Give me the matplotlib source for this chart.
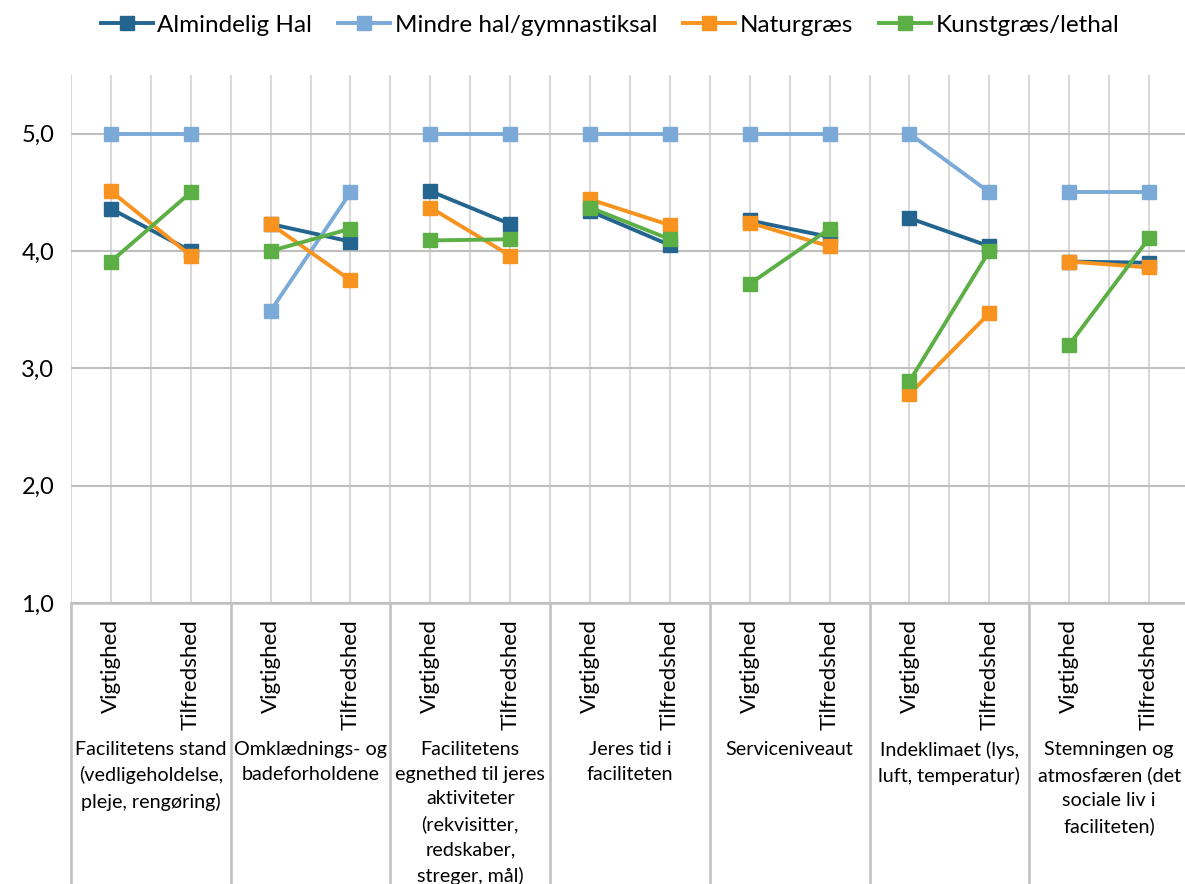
import numpy as np
import matplotlib
matplotlib.use('Agg')
import matplotlib.pyplot as plt
import matplotlib.transforms as mtransforms

plt.rcParams['font.family'] = ['Lato', 'DejaVu Sans']

# Category labels
groups = [
    'Facilitetens stand\n(vedligeholdelse,\npleje, rengøring)',
    'Omklædnings- og\nbadeforholdene',
    'Facilitetens\negnethed til jeres\naktiviteter\n(rekvisitter,\nredskaber,\nstreger, mål)',
    'Jeres tid i\nfaciliteten',
    'Serviceniveaut',
    'Indeklimaet (lys,\nluft, temperatur)',
    'Stemningen og\natmosfæren (det\nsociale liv i\nfaciliteten)',
]
sub_labels = ['Vigtighed', 'Tilfredshed']

# Values per series: (Vigtighed, Tilfredshed) for each group, flattened
almindelig_hal = [4.36, 4.00, 4.23, 4.08, 4.51, 4.23, 4.34, 4.05, 4.26, 4.12, 4.28, 4.04, 3.91, 3.90]
mindre_hal = [5.00, 5.00, 3.49, 4.50, 5.00, 5.00, 5.00, 5.00, 5.00, 5.00, 5.00, 4.50, 4.50, 4.50]
naturgraes = [4.51, 3.96, 4.23, 3.75, 4.37, 3.96, 4.44, 4.22, 4.24, 4.04, 2.78, 3.47, 3.91, 3.86]
kunstgraes = [3.91, 4.50, 4.00, 4.19, 4.09, 4.10, 4.37, 4.10, 3.72, 4.19, 2.89, 4.00, 3.20, 4.11]

series = [
    ('Almindelig Hal', almindelig_hal, '#246590'),
    ('Mindre hal/gymnastiksal', mindre_hal, '#7BAAD8'),
    ('Naturgræs', naturgraes, '#F7931E'),
    ('Kunstgræs/lethal', kunstgraes, '#5BAF45'),
]

W, H = 1185, 884
fig = plt.figure(figsize=(W / 100, H / 100), dpi=100)
ax = fig.add_axes([71 / W, (H - 603) / H, 1118 / W, (603 - 75) / H])

n_groups = len(groups)
for name, vals, color in series:
    vals = np.array(vals)
    for g in range(n_groups):
        xs = [2 * g, 2 * g + 1]
        ax.plot(xs, vals[2 * g:2 * g + 2], color=color, lw=2.8,
                marker='s', markersize=10, solid_capstyle='butt',
                label=name if g == 0 else None, zorder=3)

ax.set_xlim(-0.5, 2 * n_groups - 0.5)
ax.set_ylim(1, 5.5)
ax.set_yticks([1, 2, 3, 4, 5])
ax.set_yticklabels([f'{v:.1f}'.replace('.', ',') for v in [1, 2, 3, 4, 5]], fontsize=17)
ax.tick_params(axis='y', length=0, pad=12)

# vertical gridlines at category centres and boundaries
ax.set_xticks(np.arange(-0.5, 2 * n_groups, 0.5))
ax.set_xticklabels([])
ax.tick_params(axis='x', length=0)
ax.grid(axis='x', color='#D9D9D9', lw=1.5, zorder=0)
ax.grid(axis='y', color='#BFBFBF', lw=1.5, zorder=0)
ax.set_axisbelow(True)

for s in ['top', 'right', 'left']:
    ax.spines[s].set_visible(False)
ax.spines['bottom'].set_color('#BFBFBF')
ax.spines['bottom'].set_linewidth(1.8)

# multi-level category labels
trans = mtransforms.blended_transform_factory(ax.transData, ax.transAxes)
px = 1.0 / (603 - 75)  # one pixel in axes fraction (y)
for g in range(n_groups):
    for k, lab in enumerate(sub_labels):
        ax.text(2 * g + k, -16 * px, lab, transform=trans, rotation=90,
                ha='center', va='top', fontsize=16)
    ax.text(2 * g + 0.5, -138 * px, groups[g], transform=trans,
            ha='center', va='top', fontsize=14.2, linespacing=1.55)
    ax.plot([2 * g - 0.5, 2 * g - 0.5], [0, -(884 - 603) * px], transform=trans,
            color='#BFBFBF', lw=1.8, clip_on=False)

fig.legend(loc='upper center', bbox_to_anchor=(0.514, 1.0), ncol=4, frameon=False,
           fontsize=17.5, handlelength=2.3, handletextpad=0.1, columnspacing=1.0,
           borderaxespad=0.2)

fig.savefig('out.png', dpi=100)
